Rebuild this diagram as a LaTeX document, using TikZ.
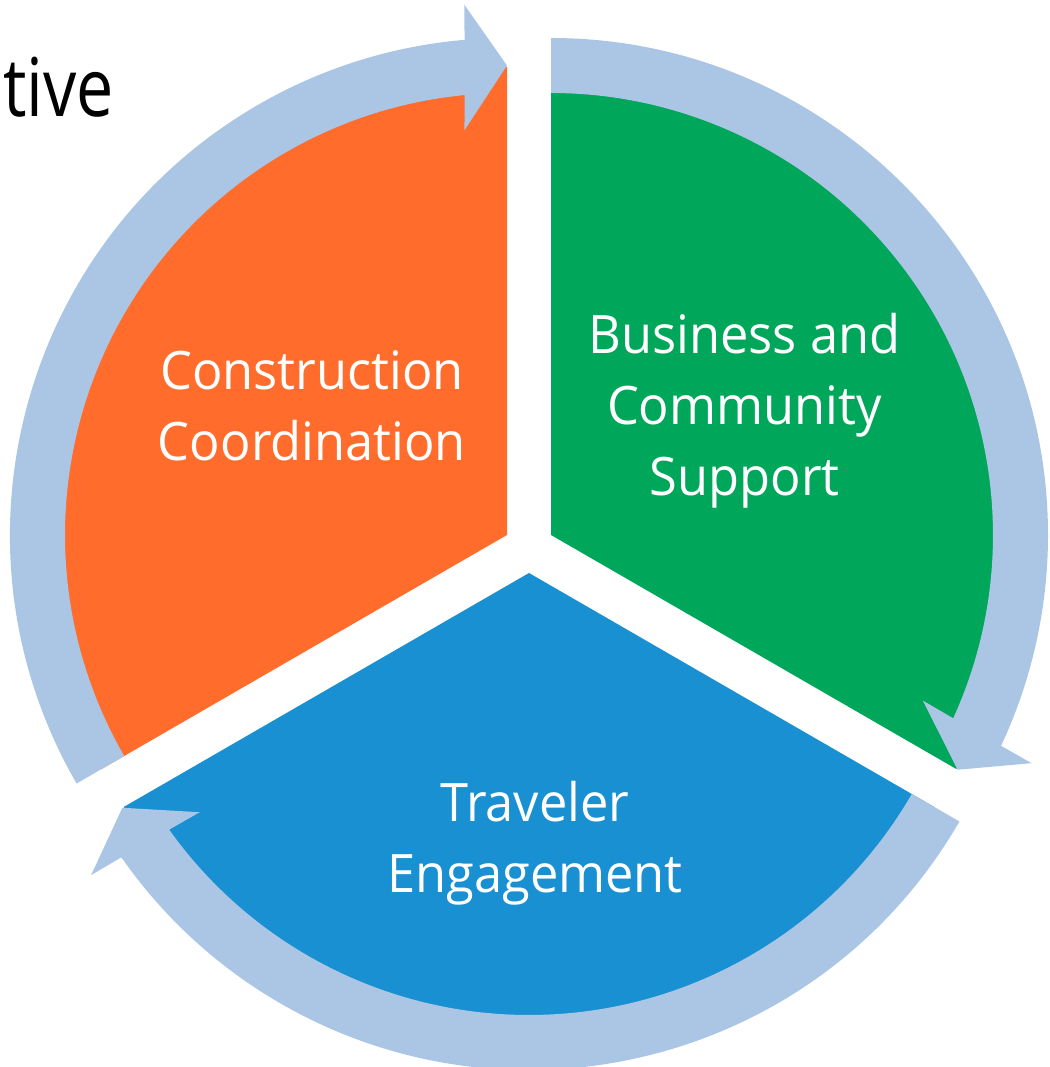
\documentclass[tikz,border=0pt]{standalone}
\usepackage{fontspec}
\setmainfont{Open Sans}[FakeStretch=0.955]
\newfontfamily\titlefont{Open Sans}[FakeStretch=0.82]
\usepackage{tikz}
\usetikzlibrary{positioning, calc}

\definecolor{cycorange}{RGB}{255,108,44}
\definecolor{cycgreen}{RGB}{0,166,90}
\definecolor{cycblue}{RGB}{24,144,209}
\definecolor{cyclight}{RGB}{171,198,228}

\begin{document}
\begin{tikzpicture}[
  x=1pt, y=1pt,
  wedge/.style  = {draw=none},
  ring/.style   = {fill=cyclight, draw=none},
  label/.style  = {text=white, align=center, inner sep=0pt,
                   font=\fontsize{53}{71}\selectfont},
  cut/.style    = {text=black, inner sep=0pt, font=\titlefont\fontsize{81}{90}\selectfont}
]
  \useasboundingbox (-529,-519) rectangle (520,548);

  % wedges, each pushed out along its own bisector
  \fill[wedge, cycorange] (-22,13) -- ++(90:468) arc[start angle=90, end angle=210, radius=468] -- cycle;
  \fill[wedge, cycgreen]  (22,13) -- ++(-30:468) arc[start angle=-30, end angle=90, radius=468] -- cycle;
  \fill[wedge, cycblue]   (0,-25) -- ++(210:468) arc[start angle=210, end angle=330, radius=468] -- cycle;

  % arrow round the orange wedge
  \begin{scope}[shift={(-22,13)}]
    \fill[ring] (210:497) arc[start angle=210, end angle=94.9, radius=497]
      -- (94.6:532) -- (90:469.5) -- (96:407) -- (95.5:442)
      arc[start angle=95.5, end angle=210, radius=442] -- cycle;
  \end{scope}

  % arrow round the green wedge
  \begin{scope}[shift={(22,13)}]
    \fill[ring] (90:497) arc[start angle=90, end angle=-25.1, radius=497]
      -- (-25.4:532) -- (-30:469.5) -- (-24:407) -- (-24.5:442)
      arc[start angle=-24.5, end angle=90, radius=442] -- cycle;
  \end{scope}

  % arrow round the blue wedge
  \begin{scope}[shift={(0,-25)}]
    \fill[ring] (330:497) arc[start angle=330, end angle=214.9, radius=497]
      -- (214.6:532) -- (210:469.5) -- (216:407) -- (215.5:442)
      arc[start angle=215.5, end angle=330, radius=442] -- cycle;
  \end{scope}

  % labels
  \node[label] (construction) at (-217,142) {Construction\\Coordination};
  \node[label] (business) at (215.5,137) {Business and\\Community\\Support};
  \node[label] (traveler) at (6,-295.5) {Traveler\\Engagement};

  % cut-off title at the top left
  \node[cut, anchor=base east] (title) at (-415,431) {tive};

\end{tikzpicture}
\end{document}
